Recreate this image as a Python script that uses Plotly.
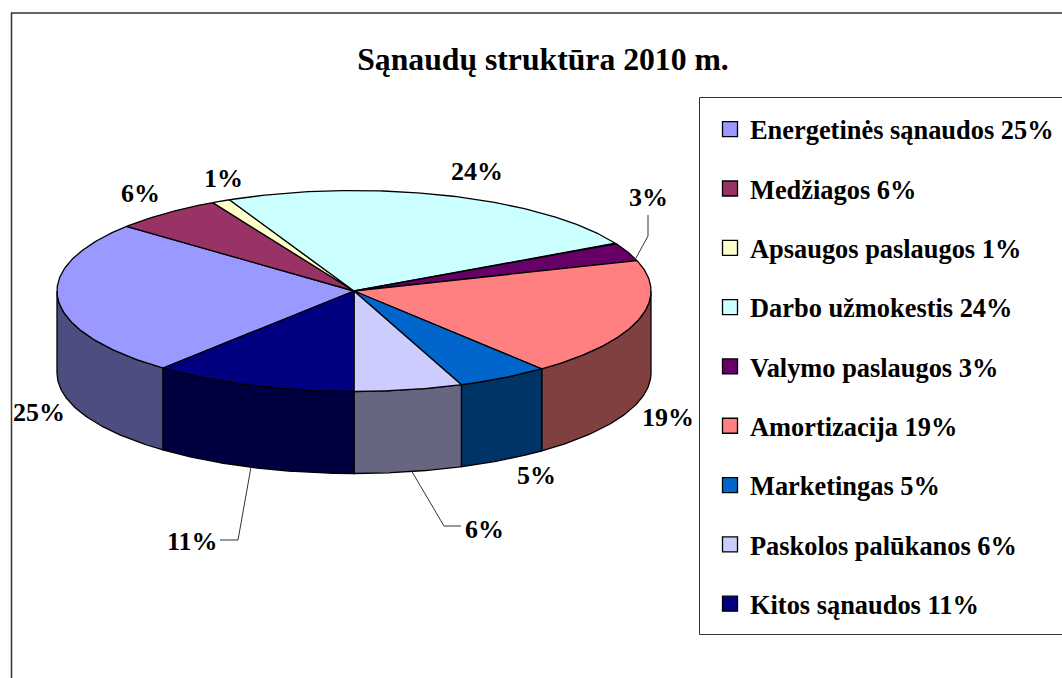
import numpy as np
import plotly.graph_objects as go

categories = ["Energetinės sąnaudos", "Medžiagos", "Apsaugos paslaugos", "Darbo užmokestis",
              "Valymo paslaugos", "Amortizacija", "Marketingas", "Paskolos palūkanos", "Kitos sąnaudos"]
# shares; the printed labels are these rounded to whole percent
values = [25, 6, 1, 24, 3, 19, 5, 5.89, 11.11]
colors = ["#9999FF", "#993366", "#FFFFCC", "#CCFFFF", "#660066", "#FF8080", "#0066CC", "#CCCCFF", "#000080"]
side_colors = ["#4D4D80", "#4D1A33", "#808066", "#668080", "#330033", "#804040", "#003366", "#666680", "#000040"]

# chart geometry, in page pixels (the axes run 1:1 with the page)
W, H = 1062, 678
CX, CY, RX, RY, DEPTH = 354, 291, 297, 100.5, 82
START = 220  # degrees clockwise from north
FONT = "Liberation Serif"
LABEL_XY = [(39, 412), (140, 193), (223, 178), (477, 171), (648, 197), (668, 417), (536, 475), (484, 529), (192, 541)]


def px(a):
    return CX + RX * np.sin(np.radians(a))


def py(a):
    return CY - RY * np.cos(np.radians(a))


fig = go.Figure()
edges = START + np.cumsum([0] + values) * 3.6
line = dict(color="black", width=1.3)

# side walls: only the front half of the rim (90..270 degrees, modulo 360)
for i in range(len(values)):
    for shift in (0, 360):
        lo = max(edges[i], 90 + shift)
        hi = min(edges[i + 1], 270 + shift)
        if hi <= lo:
            continue
        a = np.linspace(lo, hi, 60)
        x = np.r_[px(a), px(a[::-1]), px(a[0])]
        y = np.r_[py(a), py(a[::-1]) + DEPTH, py(a[0])]
        fig.add_trace(go.Scatter(x=x, y=y, mode="lines", fill="toself", fillcolor=side_colors[i],
                                 line=line, showlegend=False, hoverinfo="skip"))

# top faces
for i in range(len(values)):
    a = np.linspace(edges[i], edges[i + 1], 120)
    fig.add_trace(go.Scatter(x=np.r_[CX, px(a), CX], y=np.r_[CY, py(a), CY], mode="lines", fill="toself",
                             fillcolor=colors[i], line=line, showlegend=False,
                             name=categories[i], hoverinfo="name"))

# legend entries
for i, c in enumerate(categories):
    fig.add_trace(go.Scatter(x=[None], y=[None], mode="markers", name=f"{c} {round(values[i])}%", legendgroup=str(i),
                             marker=dict(symbol="square", size=15, color=colors[i],
                                         line=dict(color="black", width=1.3))))

# leader lines
leaders = [[(636, 258), (648, 236), (648, 215)], [(411, 470), (444, 526), (461, 526)], [(251, 467), (238, 540), (220, 540)]]
shapes = [dict(type="path", xref="x", yref="y", line=dict(color="#333333", width=1),
               path="M " + " L ".join(f"{p[0]},{p[1]}" for p in l)) for l in leaders]
shapes.append(dict(type="rect", xref="x", yref="y", x0=11.5, y0=13, x1=1100, y1=720, layer="below",
                   line=dict(color="#333333", width=1.5)))
shapes.append(dict(type="rect", xref="x", yref="y", x0=699.5, y0=97.5, x1=1100, y1=634.5, layer="below",
                   line=dict(color="#333333", width=1)))

annotations = [dict(x=LABEL_XY[i][0], y=LABEL_XY[i][1], xref="x", yref="y", text=f"<b>{round(v)}%</b>", showarrow=False,
                    font=dict(family=FONT, size=26, color="black")) for i, v in enumerate(values)]

fig.update_layout(
    width=W, height=H, margin=dict(l=0, r=0, t=0, b=0), autosize=False,
    paper_bgcolor="white", plot_bgcolor="white",
    title=dict(text="<b>Sąnaudų struktūra 2010 m.</b>", x=543 / W, xanchor="center", y=1 - 59 / H, yanchor="middle",
               font=dict(family=FONT, size=31.7, color="black")),
    xaxis=dict(range=[0, W], visible=False, fixedrange=True),
    yaxis=dict(range=[H, 0], visible=False, fixedrange=True),
    shapes=shapes, annotations=annotations, showlegend=True,
    legend=dict(x=710 / W, xanchor="left", y=1 - 105.5 / H, yanchor="top", bgcolor="rgba(0,0,0,0)",
                font=dict(family=FONT, size=26.4, color="black", weight="bold"), tracegroupgap=22, itemclick=False,
                itemdoubleclick=False),
)
fig.write_html("out.html", post_script="document.body.style.margin='0';", config=dict(displayModeBar=False))
